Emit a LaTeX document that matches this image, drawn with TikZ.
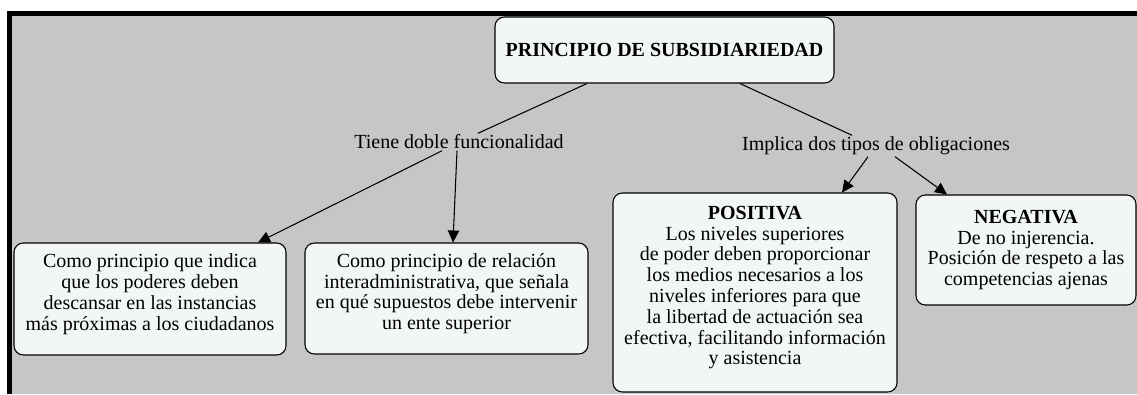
\documentclass[tikz,border=0pt]{standalone}
\usepackage{fontspec}
\setmainfont{Liberation Serif}
\usetikzlibrary{arrows.meta,calc}
\definecolor{bggray}{HTML}{C6C6C6}
\definecolor{boxfill}{HTML}{F2F6F7}
\newcommand\lowstrut{\rule[-10.5pt]{0pt}{10.5pt}}
\begin{document}
\begin{tikzpicture}[x=0.75pt,y=-0.75pt,
  box/.style={draw=black,line width=0.8pt,rounded corners=7pt,fill=boxfill,align=center,inner sep=0pt,font={\fontsize{15}{15.6}\selectfont\lineskiplimit=-100pt\lineskip=0pt}},
  lbl/.style={inner sep=1pt,font=\fontsize{15}{15.6}\selectfont},
  conn/.style={line width=0.8pt},
  arr/.style={line width=0.8pt,-{Triangle[length=9pt,width=8.5pt]}}]
\useasboundingbox (0,0) rectangle (1137,394);
\fill[white] (0,0) rectangle (1137,394);
\fill[bggray] (7,12) rectangle (1137,394);
\draw[line width=3.75pt] (9.5,394) -- (9.5,13.5) -- (1137,13.5);

\node[box,minimum width=254.25pt,minimum height=49.5pt] (main) at (664.5,50) {\textbf{PRINCIPIO DE SUBSIDIARIEDAD}};
\node[lbl] (tiene) at (459,142) {Tiene doble funcionalidad};
\node[lbl] (implica) at (876,146) {Implica dos tipos de obligaciones};

\node[box,minimum width=204pt,minimum height=84pt] (b1) at (150,299) {Como principio que indica\\que los poderes deben\\descansar en las instancias\\más próximas a los ciudadanos\lowstrut};
\node[box,minimum width=212.25pt,minimum height=83.25pt] (b2) at (446.5,298.5) {Como principio de relación\\interadministrativa, que señala\\en qué supuestos debe intervenir\\un ente superior\lowstrut};
\node[box,minimum width=213pt,minimum height=149.25pt] (pos) at (755,292.5) {\textbf{POSITIVA}\\Los niveles superiores\\de poder deben proporcionar\\los medios necesarios a los\\niveles inferiores para que\\la libertad de actuación sea\\efectiva, facilitando información\\y asistencia\lowstrut};
\node[box,minimum width=165pt,minimum height=82.5pt] (neg) at (1026,250) {\textbf{NEGATIVA}\\De no injerencia.\\Posición de respeto a las\\competencias ajenas};

\draw[conn] ($(main.south)+(-77.5,0)$) -- ($(tiene.north)+(19,0)$);
\draw[conn] ($(main.south)+(75.5,0)$) -- ($(implica.north)+(-24,0)$);
\draw[arr] ($(tiene.south)+(-17,0)$) -- ($(b1.north)+(108,0)$);
\draw[arr] ($(tiene.south)+(-2,0)$) -- ($(b2.north)+(6.5,0)$);
\draw[arr] ($(implica.south)+(-8,0)$) -- ($(pos.north)+(87,0)$);
\draw[arr] ($(implica.south)+(19,0)$) -- ($(neg.north)+(-79,0)$);
\end{tikzpicture}
\end{document}
